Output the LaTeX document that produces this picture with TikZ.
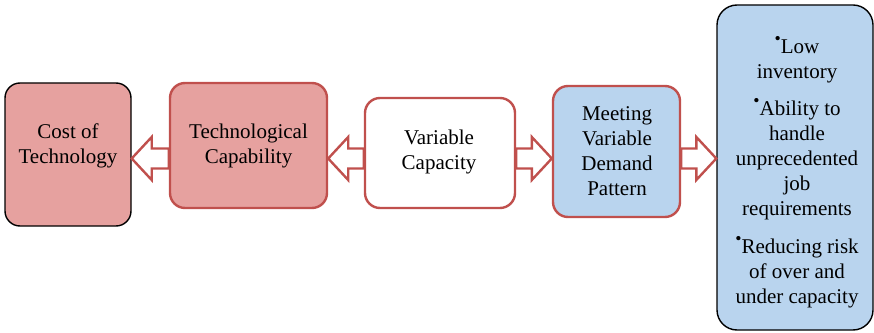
\documentclass[tikz,border=0pt]{standalone}
\usepackage{fontspec}
\setmainfont{Liberation Serif}
\usetikzlibrary{calc}
\definecolor{redline}{HTML}{C0504D}
\definecolor{pinkfill}{HTML}{E6A19F}
\definecolor{bluefill}{HTML}{B9D4EE}
\newcommand\blkarrowL[2]{% tip at #1.east, base at #2.west
  \draw[barrow] (#1.east|-ay) -- ++(20,21.5) -- ++(0,-11.5) -- ($(#2.west|-ay)+(0,10)$) -- ++(0,-20) -- ($(#1.east|-ay)+(20,-10)$) -- ++(0,-11.5) -- cycle;}
\newcommand\blkarrowR[2]{% base at #1.east, tip at #2.west
  \draw[barrow] (#2.west|-ay) -- ++(-20,21.5) -- ++(0,-11.5) -- ($(#1.east|-ay)+(0,10)$) -- ++(0,-20) -- ($(#2.west|-ay)+(-20,-10)$) -- ++(0,-11.5) -- cycle;}
\newcommand\bul{\raisebox{0.45em}{\scalebox{0.85}{\textbullet}}}
\begin{document}
\begin{tikzpicture}[x=1pt,y=1pt,
  box/.style={rectangle, rounded corners=15pt, inner sep=0pt, line width=2.4pt, draw=redline},
  txt/.style={align=center, inner sep=0pt, font=\fontsize{21}{25}\selectfont},
  barrow/.style={draw=redline, fill=white, line width=2.4pt, line join=miter}]
\useasboundingbox (0,0) rectangle (874,332);
\coordinate (ay) at (0,173.5);
\node[box, draw=black, line width=1.4pt, fill=pinkfill, minimum width=126pt, minimum height=143pt] (b1) at (68,177.5) {};
\node[box, fill=pinkfill, minimum width=157pt, minimum height=125pt] (b2) at (248.5,186.5) {};
\node[box, fill=white, minimum width=150pt, minimum height=110pt] (b3) at (440,179) {};
\node[box, fill=bluefill, minimum width=127pt, minimum height=131pt] (b4) at (616.5,180.5) {};
\node[box, draw=black, line width=1.4pt, rounded corners=20pt, fill=bluefill, minimum width=156pt, minimum height=325pt] (b5) at (795,164.5) {};
\blkarrowL{b1}{b2}
\blkarrowL{b2}{b3}
\blkarrowR{b3}{b4}
\blkarrowR{b4}{b5}
\node[txt] (t1) at (68,186) {Cost of\\Technology};
\node[txt] (t2) at (248.5,186) {Technological\\Capability};
\node[txt] (t3) at (439,180) {Variable\\Capacity};
\node[txt] (t4) at (617,181) {Meeting\\Variable\\Demand\\Pattern};
\node[txt] (t5) at (797,160) {\bul Low\\inventory\\[12.5pt]\bul Ability to\\handle\\unprecedented\\job\\requirements\\[12.5pt]\bul Reducing risk\\of over and\\under capacity};
\end{tikzpicture}
\end{document}
